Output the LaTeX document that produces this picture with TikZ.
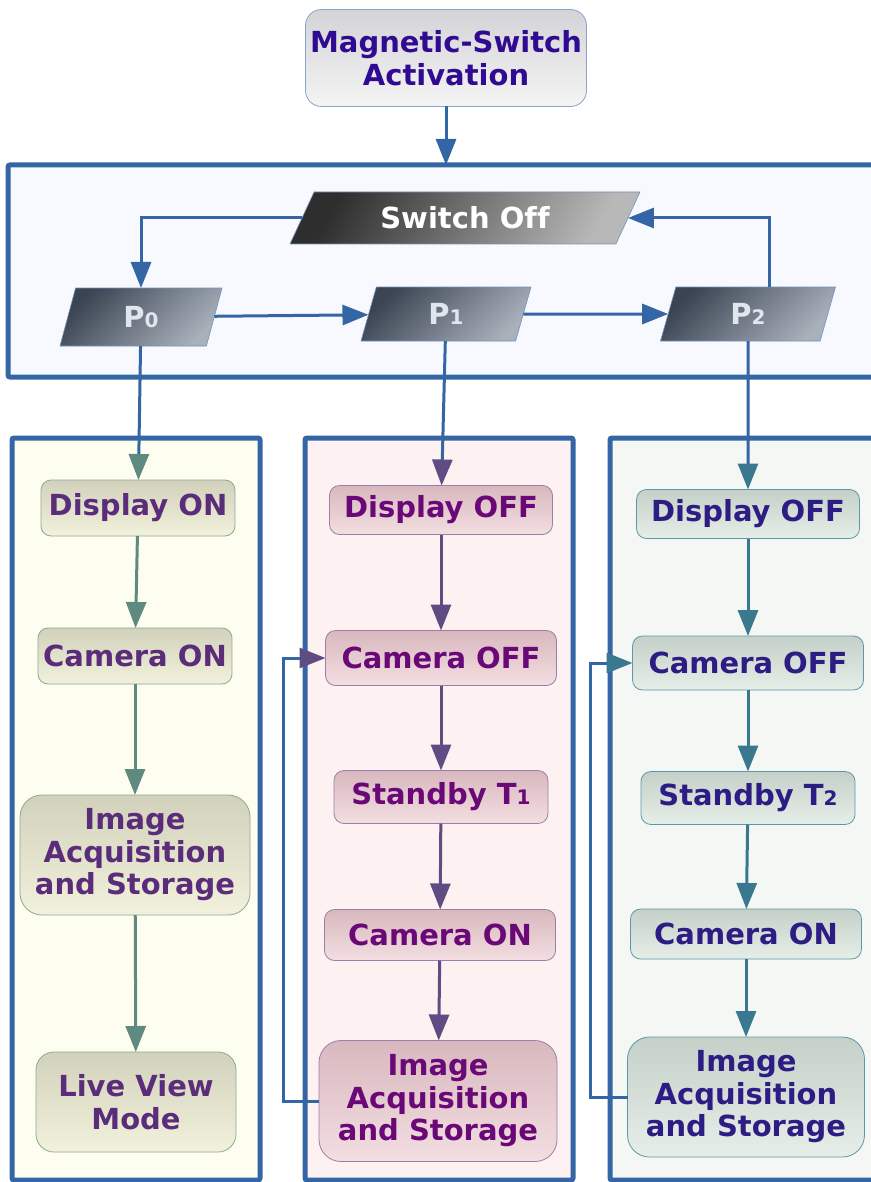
\documentclass[tikz,border=0pt]{standalone}
\usepackage{fontspec}
\setmainfont[Ligatures=NoCommon]{DejaVu Sans}
\usetikzlibrary{shapes.geometric,arrows.meta,calc}
\definecolor{lineblue}{HTML}{3465A4}
\definecolor{toppanel}{HTML}{F7F9FE}
\definecolor{magtop}{HTML}{D4D4D8}
\definecolor{magbot}{HTML}{F4F4F4}
\definecolor{magborder}{HTML}{88A4C8}
\definecolor{magtext}{HTML}{300A90}
\definecolor{swdark}{HTML}{2E2E2E}
\definecolor{swlight}{HTML}{B8B8B8}
\definecolor{pdark}{HTML}{3A4452}
\definecolor{plight}{HTML}{A8B0BA}
\definecolor{ptext}{HTML}{DFE6EE}
\definecolor{cApanel}{HTML}{FDFDF0}
\definecolor{cAtop}{HTML}{D2D2BC}
\definecolor{cAbot}{HTML}{F2F2DC}
\definecolor{cAborder}{HTML}{8AA898}
\definecolor{cAtext}{HTML}{5B2C7A}
\definecolor{cAarrow}{HTML}{5F8A80}
\definecolor{cBpanel}{HTML}{FDF1F1}
\definecolor{cBtop}{HTML}{D8B8BE}
\definecolor{cBbot}{HTML}{F3DEE1}
\definecolor{cBborder}{HTML}{9A80A8}
\definecolor{cBtext}{HTML}{6A0878}
\definecolor{cBarrow}{HTML}{5E4C82}
\definecolor{cCpanel}{HTML}{F4F7F4}
\definecolor{cCtop}{HTML}{C4D0C8}
\definecolor{cCbot}{HTML}{E6EEE8}
\definecolor{cCborder}{HTML}{5E98A8}
\definecolor{cCtext}{HTML}{2C1C84}
\definecolor{cCarrow}{HTML}{3A7890}
\newcommand{\lbl}{\bfseries\fontsize{29}{32.5}\selectfont}
\newcommand{\sml}[1]{{\fontsize{20}{20}\selectfont #1}}
\begin{document}
\begin{tikzpicture}[x=1pt,y=-1pt,
  panel/.style={draw=lineblue, line width=5pt, rounded corners=2pt, inner sep=0pt, outer sep=0pt},
  conn/.style={draw=lineblue, line width=3pt},
  tipc/.style={-{Triangle[length=26pt,width=20pt,color=#1]}},
  boxbase/.style={rectangle, rounded corners=#1, line width=0.8pt, align=center, inner sep=0pt, outer sep=0pt, font=\lbl},
  boxA/.style={boxbase=#1, draw=cAborder, top color=cAtop, bottom color=cAbot, text=cAtext},
  boxB/.style={boxbase=#1, draw=cBborder, top color=cBtop, bottom color=cBbot, text=cBtext},
  boxC/.style={boxbase=#1, draw=cCborder, top color=cCtop, bottom color=cCbot, text=cCtext},
  arrA/.style={draw=cAarrow, line width=3pt, tipc=cAarrow},
  arrB/.style={draw=cBarrow, line width=3pt, tipc=cBarrow},
  arrC/.style={draw=cCarrow, line width=3pt, tipc=cCarrow},
  para/.style={trapezium, trapezium left angle=54, trapezium right angle=126, trapezium stretches body,
    inner sep=0pt, outer sep=0pt, draw=lineblue!70, line width=0.6pt,
    top color=pdark, bottom color=plight, shading angle=45, text=ptext, font=\lbl},
]
\useasboundingbox (0,0) rectangle (870,1182);
\fill[white] (0,0) rectangle (870,1182);

% panels
\node[panel, fill=toppanel, minimum width=872pt, minimum height=212pt] (tp) at (444,271) {};
\node[panel, fill=cApanel, minimum width=248pt, minimum height=742pt] (panA) at (136,809) {};
\node[panel, fill=cBpanel, minimum width=268pt, minimum height=742pt] (panB) at (439,809) {};
\node[panel, fill=cCpanel, minimum width=270pt, minimum height=742pt] (panC) at (745,809) {};

% top
\node[boxbase=16pt, draw=magborder, top color=magtop, bottom color=magbot, text=magtext,
  minimum width=281pt, minimum height=97pt] (mag) at (446,58) {Magnetic-Switch\\Activation};

\node[trapezium, trapezium left angle=43, trapezium right angle=137, trapezium stretches body,
  inner sep=0pt, outer sep=0pt, draw=lineblue!70, line width=0.6pt,
  top color=swdark, bottom color=swlight, shading angle=60, text=white, font=\lbl,
  minimum width=350pt, minimum height=52pt] (sw) at (465,218) {Switch Off};

\node[para, minimum width=162pt, minimum height=58pt] (p0) at (141,317) {P\sml{0}};
\node[para, minimum width=170pt, minimum height=54pt] (p1) at (446,314) {P\sml{1}};
\node[para, minimum width=175pt, minimum height=54pt] (p2) at (748,314) {P\sml{2}};
\coordinate (p2up) at ($(p2.top right corner)+(-66pt,0pt)$);

% column A
\node[boxA=10pt, minimum width=194pt, minimum height=56pt] (dA) at (138,508) {Display ON};
\node[boxA=10pt, minimum width=194pt, minimum height=56pt] (cA) at (135,656) {Camera ON};
\node[boxA=22pt, minimum width=230pt, minimum height=120pt] (iA) at (135,855) {Image\\Acquisition\\and Storage};
\node[boxA=18pt, minimum width=200pt, minimum height=100pt] (lA) at (136,1102) {Live View\\Mode};

% column B
\node[boxB=10pt, minimum width=223pt, minimum height=49pt] (dB) at (441,510) {Display OFF};
\node[boxB=10pt, minimum width=231pt, minimum height=55pt] (cBoff) at (441,658) {Camera OFF};
\node[boxB=10pt, minimum width=214pt, minimum height=53pt] (sB) at (441,797) {Standby T\sml{1}};
\node[boxB=10pt, minimum width=231pt, minimum height=51pt] (cBon) at (440,935) {Camera ON};
\node[boxB=22pt, minimum width=238pt, minimum height=121pt] (iB) at (438,1101) {Image\\Acquisition\\and Storage};

% column C
\node[boxC=10pt, minimum width=223pt, minimum height=49pt] (dC) at (748,514) {Display OFF};
\node[boxC=10pt, minimum width=231pt, minimum height=54pt] (cCoff) at (748,663) {Camera OFF};
\node[boxC=10pt, minimum width=214pt, minimum height=53pt] (sC) at (748,798) {Standby T\sml{2}};
\node[boxC=10pt, minimum width=231pt, minimum height=50pt] (cCon) at (746,934) {Camera ON};
\node[boxC=22pt, minimum width=237pt, minimum height=120pt] (iC) at (746,1097) {Image\\Acquisition\\and Storage};

% connectors top
\draw[conn, tipc=lineblue] (mag) -- (mag |- tp.north);
\draw[conn, tipc=lineblue] (sw.west) -| (p0);
\draw[conn, tipc=lineblue] (p2up) |- (sw.east);
\draw[conn, tipc=lineblue] (p0) -- (p1);
\draw[conn, tipc=lineblue] (p1) -- (p2);
\draw[conn, tipc=cAarrow] (p0) -- (dA);
\draw[conn, tipc=cBarrow] (p1) -- (dB);
\draw[conn, tipc=cCarrow] (p2) -- (dC);

% column arrows
\draw[arrA] (dA) -- (cA);
\draw[arrA] (cA) -- (iA);
\draw[arrA] (iA) -- (lA);
\draw[arrB] (dB) -- (cBoff);
\draw[arrB] (cBoff) -- (sB);
\draw[arrB] (sB) -- (cBon);
\draw[arrB] (cBon) -- (iB);
\draw[arrC] (dC) -- (cCoff);
\draw[arrC] (cCoff) -- (sC);
\draw[arrC] (sC) -- (cCon);
\draw[arrC] (cCon) -- (iC);

% feedback loops
\draw[conn, tipc=cBarrow] (iB.west) -- ++(-36pt,0pt) |- (cBoff.west);
\draw[conn, tipc=cCarrow] (iC.west) -- ++(-37pt,0pt) |- (cCoff.west);
\end{tikzpicture}
\end{document}
